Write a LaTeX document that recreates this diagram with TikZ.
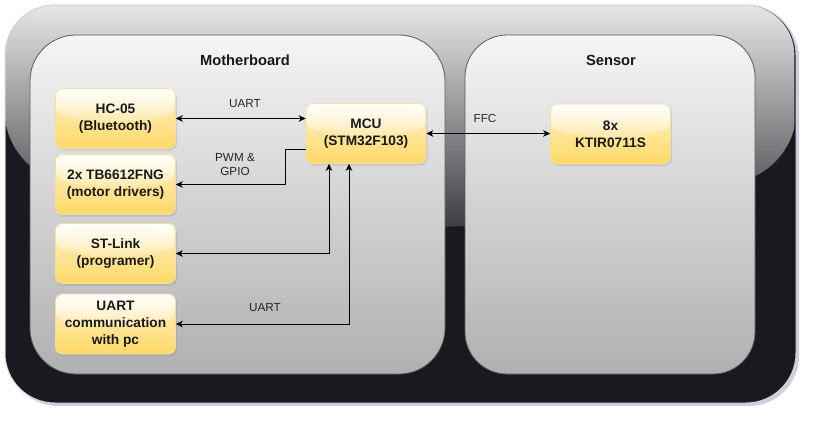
\documentclass[tikz,border=0pt]{standalone}
\usepackage{fontspec}
\setmainfont{Liberation Sans}
\usetikzlibrary{arrows.meta,shadows,fadings,calc}
\tikzfading[name=glassfade, top color=transparent!10, middle color=transparent!64, bottom color=transparent!90]
\definecolor{darkbase}{HTML}{1A191F}
\definecolor{outline}{HTML}{D4D4D8}
\definecolor{shadowblue}{HTML}{9AA0C0}
\definecolor{gtop}{HTML}{F5F5F5}
\definecolor{gbot}{HTML}{B0B0B0}
\definecolor{gline}{HTML}{5A5A5E}
\definecolor{ytop}{HTML}{FFF2CC}
\definecolor{ybot}{HTML}{FFD966}
\definecolor{yline}{HTML}{F3DF9E}
\begin{document}
\begin{tikzpicture}[x=1pt,y=-1pt,
  glass/.style={path picture={
    \begin{scope}
    \clip let \p1=(path picture bounding box.north west),
          \p2=(path picture bounding box.south east) in
      (\x1,\y1) -- (\x1,{\y1+0.4*(\y2-\y1)})
      .. controls ({\x1+(\x2-\x1)/3},{\y1+0.6*(\y2-\y1)}) and ({\x1+2*(\x2-\x1)/3},{\y1+0.6*(\y2-\y1)}) ..
      (\x2,{\y1+0.4*(\y2-\y1)}) -- (\x2,\y1) -- cycle;
    \fill[white, path fading=glassfade]
      let \p1=(path picture bounding box.north west),
          \p2=(path picture bounding box.south east) in
      (\x1,\y1) rectangle (\x2,{\y1+0.6*(\y2-\y1)});
    \end{scope}
  }},
  outerbox/.style={rectangle, rounded corners=50pt, minimum width=791pt, minimum height=398pt,
    inner sep=0pt, outer sep=0pt, fill=darkbase, draw=outline, line width=1pt, glass,
    drop shadow={shadow xshift=3pt, shadow yshift=-3pt, fill=shadowblue, opacity=0.5}},
  innerbox/.style={rectangle, rounded corners=#1, inner sep=0pt, outer sep=0pt,
    top color=gtop, bottom color=gbot, draw=gline, line width=0.8pt},
  ybox/.style={rectangle, rounded corners=7pt, minimum width=120pt, minimum height=60pt,
    inner sep=2pt, align=center, top color=ytop, bottom color=ybot, draw=yline, line width=0.6pt,
    glass, drop shadow={shadow xshift=1.5pt, shadow yshift=-2pt, opacity=0.22},
    font=\fontsize{13.7}{17}\selectfont\bfseries, text=black!90},
  ttl/.style={font=\fontsize{14.7}{17}\selectfont\bfseries, inner sep=0pt, text=black!90},
  lbl/.style={font=\fontsize{11.7}{14.5}\selectfont, align=center, inner sep=0pt, text=black!85},
  conn/.style={draw=black, line width=1pt},
  >={Stealth[length=7pt,width=6.5pt,inset=2pt]}
]
\useasboundingbox (0,0) rectangle (814,424);

\node[outerbox] (outer) at (400.5,204) {};
\node[innerbox=46pt, minimum width=415pt, minimum height=339pt] (mb) at (237.5,204.5) {};
\node[innerbox=42pt, minimum width=290pt, minimum height=339pt] (sens) at (610,204.5) {};

\node[ttl] (mbt) at (245,60) {Motherboard};
\node[ttl] (sent) at (611,60) {Sensor};

\node[ybox] (hc) at (115.5,118.5) {HC-05\\(Bluetooth)};
\node[ybox] (tb) at (115.5,184.5) {2x TB6612FNG\\(motor drivers)};
\node[ybox] (st) at (115.5,253.5) {ST-Link\\(programer)};
\node[ybox] (uc) at (115.5,324) {UART\\communication\\with pc};
\node[ybox] (mcu) at (366,133.5) {MCU\\(STM32F103)};
\node[ybox] (kt) at (610.5,134) {8x\\KTIR0711S};

\draw[conn,<->] (hc.east) -- (hc.east -| mcu.west);
\draw[conn,->] ([yshift=-15.5pt]mcu.west) -- ++(-20,0) |- (tb.east);
\draw[conn,<->] ([xshift=-37pt]mcu.south) |- (st.east);
\draw[conn,<->] ([xshift=-17pt]mcu.south) |- (uc.east);
\draw[conn,<->] (mcu.east) -- (mcu.east -| kt.west);

\node[lbl] (l1) at (245,104) {UART};
\node[lbl] (l2) at (235,164.5) {PWM \&\\GPIO};
\node[lbl] (l3) at (265,308) {UART};
\node[lbl] (l4) at (485,118) {FFC};
\end{tikzpicture}
\end{document}
